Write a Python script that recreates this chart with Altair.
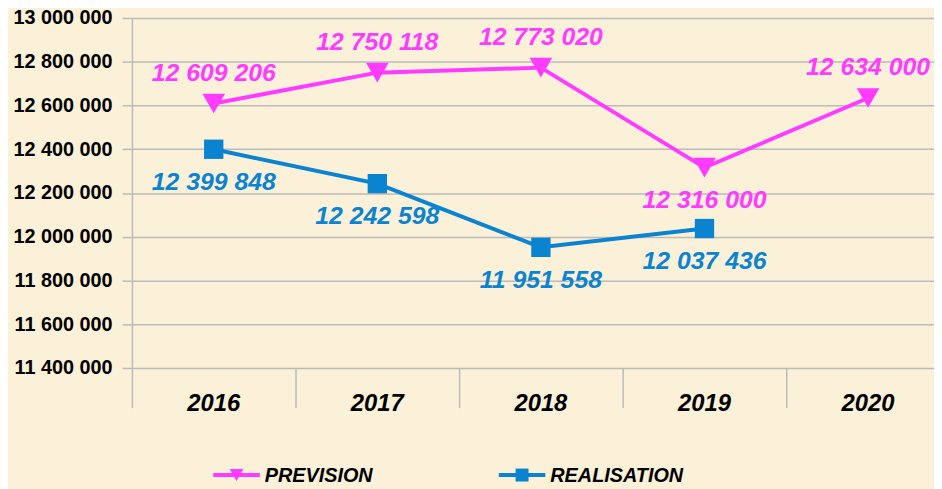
import altair as alt
import pandas as pd

# ---- data ----
years = ["2016", "2017", "2018", "2019", "2020"]
prevision = [12609206, 12750118, 12773020, 12316000, 12634000]
realisation = [12399848, 12242598, 11951558, 12037436, None]
series_names = ["PREVISION", "REALISATION"]
series_colors = ["#FF3BFF", "#0A83D1"]
series_shapes = ["triangle-down", "square"]
y_ticks = [11400000, 11600000, 11800000, 12000000, 12200000,
           12400000, 12600000, 12800000, 13000000]

FONT = "Liberation Sans"
GRID = "#BBBBBB"
BG = "#FBF0D8"
W, H = 809, 353
BAND = 165

rows = []
for i, yr in enumerate(years):
    for name, vals in zip(series_names, [prevision, realisation]):
        v = vals[i]
        if v is not None:
            rows.append({"idx": i, "year": yr, "series": name, "value": v,
                         "label": f"{v:,}".replace(",", " ")})
df = pd.DataFrame(rows)
year_df = pd.DataFrame({"idx": list(range(len(years))), "year": years})

x_enc = alt.X(
    "idx:Q",
    scale=alt.Scale(domain=[-0.5, -0.5 + W / BAND], nice=False, zero=False),
    axis=alt.Axis(values=[-0.5, 0.5, 1.5, 2.5, 3.5], labels=False, grid=False,
                  domain=False, ticks=True, tickSize=40, tickColor=GRID,
                  tickWidth=1.5, title=None),
)
y_enc = alt.Y(
    "value:Q",
    scale=alt.Scale(domain=[11400000, 13000000], nice=False, zero=False),
    axis=alt.Axis(values=y_ticks, title=None,
                  labelExpr="replace(replace(format(datum.value, ','), ',', ' '), ',', ' ')",
                  labelFont=FONT, labelFontSize=20, labelFontWeight="bold",
                  labelColor="#000000", labelPadding=10, tickSize=10,
                  tickColor=GRID, tickWidth=1.5, domainColor=GRID,
                  domainWidth=1.5, gridColor=GRID, gridWidth=1.5),
)

layers = []
for name, col, shp in zip(series_names, series_colors, series_shapes):
    sd = df[df["series"] == name]
    base = alt.Chart(sd).encode(x=x_enc, y=y_enc)
    layers.append(base.mark_line(color=col, strokeWidth=4))
    layers.append(base.mark_point(shape=shp, filled=True, opacity=1, color=col,
                                  size=520 if shp == "triangle-down" else 380))

# data labels
lab_style = dict(font=FONT, fontWeight="bold", fontStyle="italic",
                 baseline="middle", align="center")
prev_df = df[df["series"] == "PREVISION"]
real_df = df[df["series"] == "REALISATION"]
layers.append(alt.Chart(prev_df[prev_df["year"] != "2019"]).mark_text(
    dy=-31, fontSize=25, color=series_colors[0], **lab_style).encode(x=x_enc, y=y_enc, text="label:N"))
layers.append(alt.Chart(prev_df[prev_df["year"] == "2019"]).mark_text(
    dy=33, fontSize=25, color=series_colors[0], **lab_style).encode(x=x_enc, y=y_enc, text="label:N"))
layers.append(alt.Chart(real_df).mark_text(
    dy=33, fontSize=25, color=series_colors[1], **lab_style).encode(x=x_enc, y=y_enc, text="label:N"))

# category labels
layers.append(alt.Chart(year_df).mark_text(
    fontSize=24, color="#000000", **lab_style).encode(x=x_enc, y=alt.value(H + 36), text="year:N"))

# legend (manual)
leg_y = 461
leg_x = [82, 370]
for name, col, shp, lx in zip(series_names, series_colors, series_shapes, leg_x):
    one = pd.DataFrame({"series": [name]})
    layers.append(alt.Chart(one).mark_rule(color=col, strokeWidth=4).encode(
        x=alt.value(lx), x2=alt.value(lx + 47), y=alt.value(leg_y)))
    layers.append(alt.Chart(one).mark_point(shape=shp, filled=True, opacity=1, color=col,
                                            size=190 if shp == "triangle-down" else 170).encode(
        x=alt.value(lx + 23.5), y=alt.value(leg_y)))
    layers.append(alt.Chart(one).mark_text(
        font=FONT, fontSize=20, fontWeight="bold", fontStyle="italic",
        baseline="middle", align="left", color="#000000").encode(
        x=alt.value(lx + 52), y=alt.value(leg_y + 1), text="series:N"))

chart = alt.layer(*layers).properties(
    width=W, height=H,
    autosize=alt.AutoSizeParams(type="none"),
    padding={"left": 125, "top": 8, "right": 0, "bottom": 120},
    background=BG,
).configure_view(stroke=None)

chart.save("out.html", embed_options={"renderer": "svg", "actions": False})
